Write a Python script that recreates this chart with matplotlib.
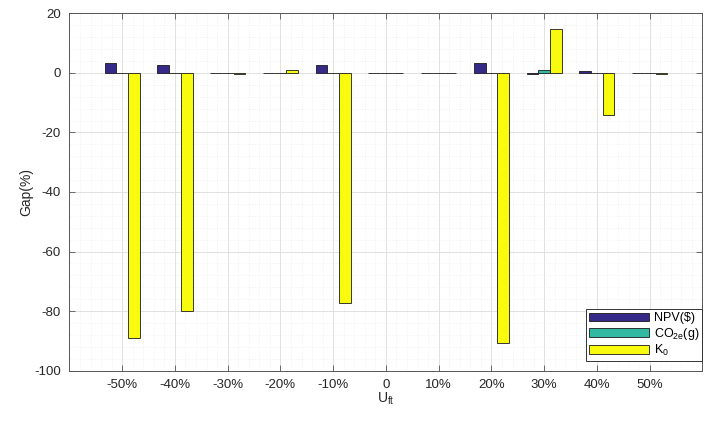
import matplotlib.pyplot as plt
import numpy as np
from matplotlib.ticker import MultipleLocator

# data
categories = ['-50%', '-40%', '-30%', '-20%', '-10%', '0', '10%', '20%', '30%', '40%', '50%']
npv = [3.2, 2.8, 0.0, 0.0, 2.7, 0.0, 0.0, 3.2, -0.3, 0.7, 0.0]
co2 = [0.0, 0.0, 0.0, 0.0, 0.0, 0.0, 0.0, 0.0, 0.9, 0.0, 0.0]
k0 = [-89.0, -80.0, -0.3, 0.9, -77.3, 0.0, -0.2, -90.6, 14.8, -14.2, -0.3]
series_labels = ['NPV($)', r'CO$_{2e}$(g)', r'K$_0$']

plt.rcParams['font.family'] = ['Liberation Sans', 'DejaVu Sans']
plt.rcParams['mathtext.fontset'] = 'custom'
plt.rcParams['mathtext.rm'] = 'Liberation Sans'
plt.rcParams['mathtext.it'] = 'Liberation Sans'
plt.rcParams['axes.unicode_minus'] = False

colors = ['#352A87', '#33B8A1', '#F9FB0E']
txt = '#262626'

fig = plt.figure(figsize=(7.16, 4.21), dpi=100)
ax = fig.add_axes([0.097, 0.1195, 0.884, 0.8489])

x = np.arange(1, len(categories) + 1)
w = 0.222
for i, vals in enumerate([npv, co2, k0]):
    ax.bar(x + (i - 1) * w, vals, width=w, color=colors[i], edgecolor='#1a1a1a',
           linewidth=0.6, label=series_labels[i], zorder=3)

ax.set_xlim(0, 12)
ax.set_ylim(-100, 20)
ax.set_xticks(x)
ax.set_xticklabels(categories)
ax.set_yticks(np.arange(-100, 21, 20))
ax.xaxis.set_minor_locator(MultipleLocator(0.2))
ax.yaxis.set_minor_locator(MultipleLocator(4))

ax.grid(which='major', color='#dcdcdc', linewidth=0.6, zorder=0)
ax.grid(which='minor', color='#ececec', linewidth=0.5, linestyle=':', zorder=0)
ax.set_axisbelow(True)

ax.tick_params(which='major', direction='in', length=4, width=0.6, top=True, right=True,
               colors='#555555', labelcolor=txt, labelsize=9.5, pad=6)
ax.tick_params(which='minor', length=0)
for s in ax.spines.values():
    s.set_color('#555555')
    s.set_linewidth(0.7)

ax.set_ylabel('Gap(%)', color=txt, fontsize=10, labelpad=1)
ax.set_xlabel(r'U$_{\mathrm{ft}}$', color=txt, fontsize=10, labelpad=0)

leg = ax.legend(loc='lower right', bbox_to_anchor=(1.0, 0.027), fontsize=9,
                handlelength=4.8, handleheight=0.7, fancybox=False, framealpha=1,
                edgecolor='#333333', borderpad=0.25, labelspacing=0.1, handletextpad=0.4,
                borderaxespad=0)
leg.get_frame().set_linewidth(0.7)

fig.savefig('out.png', dpi=100)
